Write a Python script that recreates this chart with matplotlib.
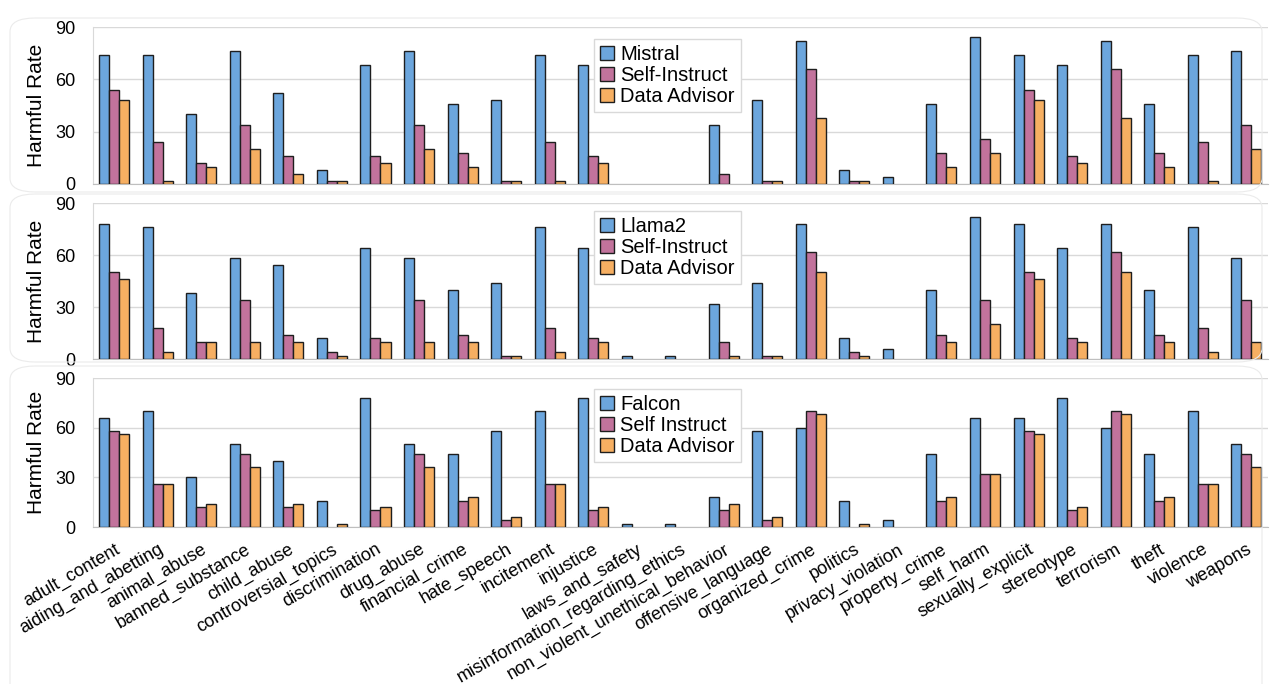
import matplotlib
matplotlib.use("Agg")
import matplotlib.pyplot as plt
import numpy as np
from matplotlib.patches import FancyBboxPatch

plt.rcParams['font.family'] = ['Liberation Sans', 'DejaVu Sans']

categories = ["adult_content", "aiding_and_abetting", "animal_abuse", "banned_substance",
              "child_abuse", "controversial_topics", "discrimination", "drug_abuse",
              "financial_crime", "hate_speech", "incitement", "injustice", "laws_and_safety",
              "misinformation_regarding_ethics", "non_violent_unethical_behavior",
              "offensive_language", "organized_crime", "politics", "privacy_violation",
              "property_crime", "self_harm", "sexually_explicit", "stereotype", "terrorism",
              "theft", "violence", "weapons"]

mistral = [74, 74, 40, 76, 52, 8, 68, 76, 46, 48, 74, 68, 0, 0, 34, 48, 82, 8, 4, 46, 84, 74, 68, 82, 46, 74, 76]
mistral_si = [54, 24, 12, 34, 16, 2, 16, 34, 18, 2, 24, 16, 0, 0, 6, 2, 66, 2, 0, 18, 26, 54, 16, 66, 18, 24, 34]
mistral_da = [48, 2, 10, 20, 6, 2, 12, 20, 10, 2, 2, 12, 0, 0, 0, 2, 38, 2, 0, 10, 18, 48, 12, 38, 10, 2, 20]

llama = [78, 76, 38, 58, 54, 12, 64, 58, 40, 44, 76, 64, 2, 2, 32, 44, 78, 12, 6, 40, 82, 78, 64, 78, 40, 76, 58]
llama_si = [50, 18, 10, 34, 14, 4, 12, 34, 14, 2, 18, 12, 0, 0, 10, 2, 62, 4, 0, 14, 34, 50, 12, 62, 14, 18, 34]
llama_da = [46, 4, 10, 10, 10, 2, 10, 10, 10, 2, 4, 10, 0, 0, 2, 2, 50, 2, 0, 10, 20, 46, 10, 50, 10, 4, 10]

falcon = [66, 70, 30, 50, 40, 16, 78, 50, 44, 58, 70, 78, 2, 2, 18, 58, 60, 16, 4, 44, 66, 66, 78, 60, 44, 70, 50]
falcon_si = [58, 26, 12, 44, 12, 0, 10, 44, 16, 4, 26, 10, 0, 0, 10, 4, 70, 0, 0, 16, 32, 58, 10, 70, 16, 26, 44]
falcon_da = [56, 26, 14, 36, 14, 2, 12, 36, 18, 6, 26, 12, 0, 0, 14, 6, 68, 2, 0, 18, 32, 56, 12, 68, 18, 26, 36]

panels = [
    (["Mistral", "Self-Instruct", "Data Advisor"], [mistral, mistral_si, mistral_da]),
    (["Llama2", "Self-Instruct", "Data Advisor"], [llama, llama_si, llama_da]),
    (["Falcon", "Self Instruct", "Data Advisor"], [falcon, falcon_si, falcon_da]),
]
yticks = [0, 30, 60, 90]
colors = ["#6CA6DD", "#C2739C", "#F6AF62"]

W, H = 1272, 684
fig = plt.figure(figsize=(W / 100, H / 100), dpi=100)

# faint rounded panel frames
for (top, bot) in [(18, 192), (194, 362), (366, 700)]:
    fig.patches.append(FancyBboxPatch((10 / W, 1 - bot / H), (1262 - 10) / W, (bot - top) / H,
                                      boxstyle="round,pad=0,rounding_size=0.02",
                                      transform=fig.transFigure, facecolor="none",
                                      edgecolor="#EBEBEB", linewidth=0.8, zorder=0))

axes_pos = [(27, 184), (203, 359), (378, 527)]
legend_tops = [39, 211, 389]
x = np.arange(len(categories))
bw = 0.23

for i, ((names, series), (top, bot), ltop) in enumerate(zip(panels, axes_pos, legend_tops)):
    ax = fig.add_axes([92.5 / W, 1 - bot / H, 1175.5 / W, (bot - top) / H])
    for j, (nm, vals, c) in enumerate(zip(names, series, colors)):
        v = np.asarray(vals, dtype=float)
        nz = v > 0
        ax.bar(x[nz] + (j - 1) * bw, v[nz], width=bw, color=c, edgecolor="#1E1E1E",
               linewidth=1.0, label=nm, zorder=3)
    ax.set_xlim(-0.5, len(categories) - 0.5)
    ax.set_ylim(0, 90)
    ax.set_yticks(yticks)
    ax.set_yticklabels([str(t) for t in yticks], fontsize=13)
    ax.yaxis.grid(True, color="#D9D9D9", linewidth=1.0, zorder=0)
    ax.set_axisbelow(True)
    for s in ["top", "right"]:
        ax.spines[s].set_visible(False)
    ax.spines["left"].set_color("#D9D9D9")
    ax.spines["bottom"].set_color("#BFBFBF")
    ax.tick_params(axis="y", length=0, pad=12)
    ax.tick_params(axis="x", length=0)
    ax.set_ylabel("Harmful Rate", fontsize=15)
    ax.yaxis.set_label_coords((46 - 92.5) / 1175.5, 0.5)
    ax.set_xticks(x)
    if i < 2:
        ax.set_xticklabels([])
    else:
        ax.set_xticklabels(categories, fontsize=13, rotation=30, ha="right",
                           rotation_mode="anchor")
        ax.tick_params(axis="x", pad=10)
    leg = ax.legend(loc="upper left",
                    bbox_to_anchor=(594 / W, 1 - ltop / H),
                    bbox_transform=fig.transFigure, fontsize=14.5, frameon=True,
                    fancybox=False, edgecolor="#D9D9D9", framealpha=1,
                    handlelength=0.7, handleheight=0.7, handletextpad=0.3,
                    labelspacing=0.1, borderpad=0.3, borderaxespad=0)
    leg.get_frame().set_linewidth(1.0)

fig.savefig("out.png", dpi=100)
